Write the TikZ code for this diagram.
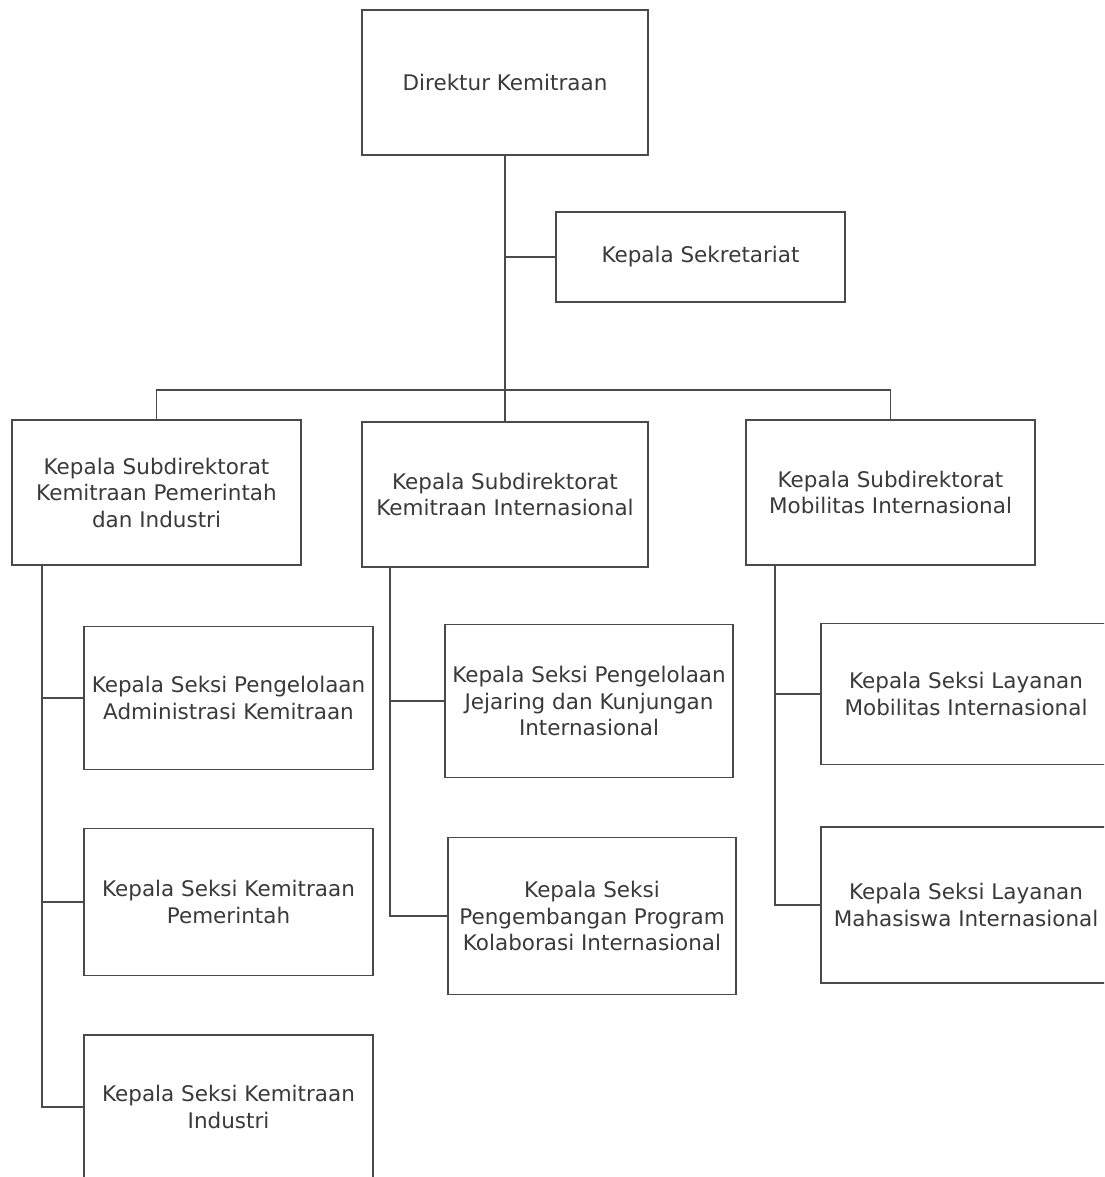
\documentclass[tikz,border=0pt]{standalone}
\usepackage{fontspec}
\setmainfont{DejaVu Sans}
\definecolor{linec}{HTML}{4A4A4A}
\definecolor{textc}{HTML}{3A3A3A}
\begin{document}
\begin{tikzpicture}[x=1pt,y=-1pt,
  box/.style={draw=linec, line width=1.7pt, fill=white, align=center,
    inner sep=0pt, text=textc,
    font=\fontsize{21.5}{26.5}\selectfont},
  link/.style={draw=linec, line width=1.8pt}]
\clip (0,0) rectangle (1104,1177);
\fill[white] (0,0) rectangle (1104,1177);

% top level
\node[box, minimum width=286pt, minimum height=145pt] (dir) at (505,82.5) {Direktur Kemitraan};
\node[box, minimum width=289pt, minimum height=90pt] (sek) at (700.5,257) {Kepala Sekretariat};

% subdirectorates
\node[box, minimum width=289pt, minimum height=145pt] (sd1) at (156.5,492.5)
  {Kepala Subdirektorat\\Kemitraan Pemerintah\\dan Industri};
\node[box, minimum width=286pt, minimum height=145pt] (sd2) at (505,494.5)
  {Kepala Subdirektorat\\Kemitraan Internasional};
\node[box, minimum width=289pt, minimum height=145pt] (sd3) at (890.5,492.5)
  {Kepala Subdirektorat\\Mobilitas Internasional};

% sections
\node[box, minimum width=289pt, minimum height=143pt] (l1) at (228.5,698)
  {Kepala Seksi Pengelolaan\\Administrasi Kemitraan};
\node[box, minimum width=289pt, minimum height=147pt] (l2) at (228.5,902)
  {Kepala Seksi Kemitraan\\Pemerintah};
\node[box, minimum width=289pt, minimum height=144pt] (l3) at (228.5,1107)
  {Kepala Seksi Kemitraan\\Industri};
\node[box, minimum width=288pt, minimum height=153pt] (m1) at (589,701)
  {Kepala Seksi Pengelolaan\\Jejaring dan Kunjungan\\Internasional};
\node[box, minimum width=288pt, minimum height=157pt] (m2) at (592,916)
  {Kepala Seksi\\Pengembangan Program\\Kolaborasi Internasional};
\node[box, minimum width=290pt, minimum height=141pt] (r1) at (966,694)
  {Kepala Seksi Layanan\\Mobilitas Internasional};
\node[box, minimum width=290pt, minimum height=156pt] (r2) at (966,905)
  {Kepala Seksi Layanan\\Mahasiswa Internasional};

% spine points
\coordinate (bar) at (505,390);
\coordinate (sp1) at (42,565);
\coordinate (sp2) at (390,567);
\coordinate (sp3) at (775,565);

% director to subdirectorates
\draw[link] (dir.south) -- (sd2.north);
\draw[link] (sek.west) -- (sek.west -| dir.south);
\draw[link] (sd1.north) |- (bar) -| (sd3.north);

% left branch
\draw[link] (sp1) |- (l3.west)
  (l1.west -| sp1) -- (l1.west)
  (l2.west -| sp1) -- (l2.west);

% middle branch
\draw[link] (sp2) |- (m2.west)
  (m1.west -| sp2) -- (m1.west);

% right branch
\draw[link] (sp3) |- (r2.west)
  (r1.west -| sp3) -- (r1.west);
\end{tikzpicture}
\end{document}
